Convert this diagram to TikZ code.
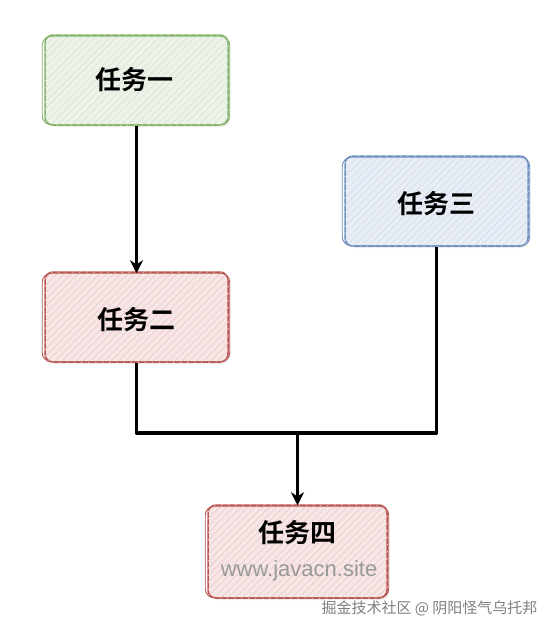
\documentclass[tikz,border=0pt]{standalone}
\usepackage{fontspec}
\setmainfont{Liberation Sans}
\newfontfamily\cjk{Noto Sans CJK SC}
\newfontfamily\cjkbold{Noto Sans CJK SC Bold}
\usetikzlibrary{arrows.meta,patterns,patterns.meta,shadows}
\definecolor{gfill}{HTML}{EDF3E9}
\definecolor{gline}{HTML}{82B366}
\definecolor{bfill}{HTML}{E9EEF6}
\definecolor{bline}{HTML}{6C8EBF}
\definecolor{rfill}{HTML}{F7E6E6}
\definecolor{rline}{HTML}{B85450}
\definecolor{ghatch}{HTML}{D6E3CE}
\definecolor{bhatch}{HTML}{D0DBEB}
\definecolor{rhatch}{HTML}{EDC6C6}
\tikzset{
  taskbox/.style={rounded corners=8pt, line width=1.5pt, minimum width=183pt, minimum height=90pt,
     drop shadow={opacity=0.15, shadow xshift=2pt, shadow yshift=-2pt}},
  gbox/.style={taskbox, draw=gline, fill=gfill},
  bbox/.style={taskbox, draw=bline, fill=bfill},
  rbox/.style={taskbox, draw=rline, fill=rfill},
  label/.style={font=\cjkbold\fontsize{26}{30}\selectfont},
  conn/.style={line width=3.4pt, black, line join=round},
  arr/.style={conn, -{Stealth[length=13pt,width=13pt]}},
  hatch/.style={pattern={Lines[angle=45,distance=5pt,line width=0.6pt]}}
}
\begin{document}
\begin{tikzpicture}[x=1pt,y=-1pt]
\useasboundingbox (0,0) rectangle (558,635);
\fill[white] (0,0) rectangle (558,635);
\node[gbox] (t1) at (136.5,80) {};
\node[bbox] (t3) at (436.5,201) {};
\node[rbox] (t2) at (136.5,317) {};
\node[rbox, minimum width=179pt, minimum height=93pt] (t4) at (297.5,551.5) {};
% hachure
\fill[rounded corners=8pt, hatch, pattern color=ghatch] (t1.south west) rectangle (t1.north east);
\fill[rounded corners=8pt, hatch, pattern color=bhatch] (t3.south west) rectangle (t3.north east);
\fill[rounded corners=8pt, hatch, pattern color=rhatch] (t2.south west) rectangle (t2.north east);
\fill[rounded corners=8pt, hatch, pattern color=rhatch] (t4.south west) rectangle (t4.north east);
% sketchy second outline
\draw[gline, line width=0.9pt, rounded corners=9pt] ([shift={(-2pt,1pt)}]t1.south west) rectangle ([shift={(1pt,-2pt)}]t1.north east);
\draw[bline, line width=0.9pt, rounded corners=9pt] ([shift={(-2pt,1pt)}]t3.south west) rectangle ([shift={(1pt,-2pt)}]t3.north east);
\draw[rline, line width=0.9pt, rounded corners=9pt] ([shift={(-2pt,1pt)}]t2.south west) rectangle ([shift={(1pt,-2pt)}]t2.north east);
\draw[rline, line width=0.9pt, rounded corners=9pt] ([shift={(-2pt,1pt)}]t4.south west) rectangle ([shift={(1pt,-2pt)}]t4.north east);
% labels
\node[label] (l1) at (134,80) {任务一};
\node[label] (l3) at (436,204) {任务三};
\node[label] (l2) at (136,320) {任务二};
\node[label] (l4) at (297.5,533) {任务四};
\node[font=\fontsize{22}{26}\selectfont, text=black!40] (web) at (299,571) {www.javacn.site};
% connectors
\coordinate (j2) at (t2.south |- 0,433);
\coordinate (j3) at (t3.south |- 0,433);
\coordinate (jm) at (t4.north |- 0,433);
\draw[arr] (t1.south) -- ([yshift=-2pt]t2.north);
\draw[conn] (t2.south) -- (j2) -- (j3) -- (t3.south);
\draw[arr] (jm) -- ([yshift=-1pt]t4.north);
% watermark
\node[font=\cjk\fontsize{15}{17}\selectfont, text=black!50, anchor=east] (wm) at (541,608) {掘金技术社区 @ 阴阳怪气乌托邦};
\end{tikzpicture}
\end{document}
